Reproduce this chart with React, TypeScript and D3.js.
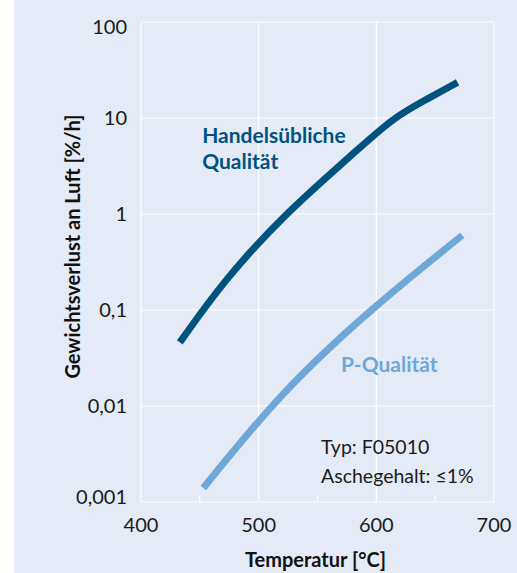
import { useEffect, useRef } from "react";
import * as d3 from "d3";

const tempTicks = [400, 500, 600, 700];
const minorTemps = [450, 550, 650];
const lossTicks = [0.001, 0.01, 0.1, 1, 10, 100];
const lossLabels = ["0,001", "0,01", "0,1", "1", "10", "100"];

// Handelsübliche Qualität
const handelsTemp = [433, 470, 522, 580, 614, 640, 669];
const handelsLoss = [0.046, 0.2, 1.0, 4.2, 10, 15, 23.5];

// P-Qualität
const pTemp = [453, 520, 596, 673];
const pLoss = [0.0014, 0.013, 0.1, 0.6];

const W = 517;
const H = 573;
const FONT = "Lato, 'Noto Sans', sans-serif";
const DARK = "#00527f";
const LIGHT = "#6fa8d6";

export default function App() {
  const ref = useRef<SVGSVGElement | null>(null);

  useEffect(() => {
    const svg = d3.select(ref.current!);
    svg.selectAll("*").remove();

    const x = d3.scaleLinear().domain([400, 700]).range([141, 494]);
    const y = d3.scaleLog().domain([0.001, 100]).range([502, 22]);

    svg.append("rect").attr("x", 14).attr("y", 0).attr("width", W - 14).attr("height", H).attr("fill", "#e5ebf6");

    const grid = svg.append("g").attr("stroke", "#ffffff").attr("stroke-width", 1.2).attr("fill", "none");
    lossTicks.forEach((v) => {
      grid.append("line").attr("x1", x(400)).attr("x2", x(700)).attr("y1", y(v)).attr("y2", y(v));
    });
    tempTicks.forEach((t) => {
      grid.append("line").attr("x1", x(t)).attr("x2", x(t)).attr("y1", y(0.001)).attr("y2", y(100));
    });
    minorTemps.forEach((t) => {
      grid.append("line").attr("x1", x(t)).attr("x2", x(t)).attr("y1", y(0.001)).attr("y2", y(0.001) - 7);
    });

    const makeLine = (curve: d3.CurveFactory) =>
      d3
        .line<[number, number]>()
        .x((d) => x(d[0]))
        .y((d) => y(d[1]))
        .curve(curve);

    const series = [
      { t: handelsTemp, v: handelsLoss, color: DARK, gen: makeLine(d3.curveBasis) },
      { t: pTemp, v: pLoss, color: LIGHT, gen: makeLine(d3.curveNatural) },
    ];
    series.forEach((s) => {
      svg
        .append("path")
        .attr("d", s.gen(s.t.map((t, i) => [t, s.v[i]] as [number, number])))
        .attr("fill", "none")
        .attr("stroke", s.color)
        .attr("stroke-width", 7)
        .attr("stroke-linecap", "butt");
    });

    // y tick labels
    svg
      .append("g")
      .selectAll("text")
      .data(lossTicks)
      .join("text")
      .attr("x", 127)
      .attr("y", (d, i) => y(d) + (i === lossTicks.length - 1 ? 12 : i === 0 ? 1.5 : 7))
      .attr("text-anchor", "end")
      .style("font", `20px ${FONT}`)
      .style("fill", "#1a1a1a")
      .text((_, i) => lossLabels[i]);

    // x tick labels
    svg
      .append("g")
      .selectAll("text")
      .data(tempTicks)
      .join("text")
      .attr("x", (d) => x(d))
      .attr("y", 532)
      .attr("text-anchor", "middle")
      .style("font", `20px ${FONT}`)
      .style("fill", "#1a1a1a")
      .text((d) => String(d));

    svg
      .append("text")
      .attr("x", 315.5)
      .attr("y", 567)
      .attr("text-anchor", "middle")
      .style("font", `bold 20px ${FONT}`)
      .style("fill", "#111")
      .text("Temperatur [°C]");

    svg
      .append("text")
      .attr("transform", `translate(80,246.5) rotate(-90)`)
      .attr("text-anchor", "middle")
      .style("font", `bold 20px ${FONT}`)
      .style("fill", "#111")
      .text("Gewichtsverlust an Luft [%/h]");

    const lab = (tx: number, ty: number, txt: string, color: string, weight: string, size: number) =>
      svg
        .append("text")
        .attr("x", tx)
        .attr("y", ty)
        .style("font", `${weight} ${size}px ${FONT}`)
        .style("fill", color)
        .text(txt);

    lab(x(452), y(5.5), "Handelsübliche", DARK, "bold", 21);
    lab(x(452), y(5.5) + 26, "Qualität", DARK, "bold", 21);
    lab(x(570), y(0.0226), "P-Qualität", LIGHT, "bold", 21);
    lab(x(553), y(0.0032), "Typ: F05010", "#1a1a1a", "normal", 19.5);
    lab(x(553), y(0.0032) + 29, "Aschegehalt: ≤1%", "#1a1a1a", "normal", 19.5);
  }, []);

  return (
    <svg
      ref={ref}
      width={W}
      height={H}
      style={{ position: "fixed", left: 0, top: 0, background: "#ffffff" }}
    />
  );
}
